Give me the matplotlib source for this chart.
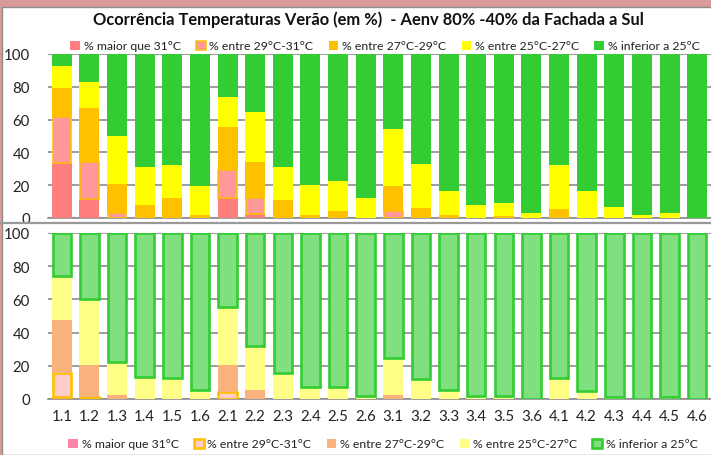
import matplotlib; matplotlib.use('Agg')
import matplotlib.pyplot as plt
from matplotlib.patches import Rectangle
from matplotlib.lines import Line2D

plt.rcParams['font.family'] = ['Lato', 'DejaVu Sans']

cats = ['1.1', '1.2', '1.3', '1.4', '1.5', '1.6',
        '2.1', '2.2', '2.3', '2.4', '2.5', '2.6',
        '3.1', '3.2', '3.3', '3.4', '3.5', '3.6',
        '4.1', '4.2', '4.3', '4.4', '4.5', '4.6']
labels = ['% maior que 31°C', '% entre 29°C-31°C', '% entre 27°C-29°C',
          '% entre 25°C-27°C', '% inferior a 25ºC']

# top panel (Aenv 80%)
top_gt31  = [33.3, 11.6, 0, 0, 0, 0, 12.5, 2.5, 0, 0, 0, 0,
             0, 0, 0, 0, 0, 0, 0, 0, 0, 0, 0, 0]
top_29_31 = [28.5, 22.7, 3.2, 0, 0, 0, 16.5, 9.5, 0, 0, 0, 0,
             4.0, 0, 0, 0, 0, 0, 0, 0, 0, 0, 0, 0]
top_27_29 = [17.2, 32.6, 17.5, 8.0, 12.2, 1.7, 26.3, 21.9, 11.1, 1.7, 4.2, 0,
             15.6, 6.3, 1.7, 0, 1.0, 0, 5.3, 0, 0, 0, 0, 0]
top_25_27 = [13.5, 15.8, 29.5, 22.9, 20.1, 17.6, 18.3, 30.5, 19.8, 18.6, 18.6, 12.0,
             34.7, 26.6, 15.0, 8.1, 8.1, 3.0, 27.0, 16.7, 6.7, 2.1, 3.2, 0]
top_lt25  = [7.5, 17.3, 49.8, 69.1, 67.7, 80.7, 26.4, 35.6, 69.1, 79.7, 77.2, 88.0,
             45.7, 67.1, 83.3, 91.9, 90.9, 97.0, 67.7, 83.3, 93.3, 97.9, 96.8, 100]

# bottom panel (-40%)
bot_gt31  = [1.5, 0, 0, 0, 0, 0, 0, 0, 0, 0, 0, 0,
             0, 0, 0, 0, 0, 0, 0, 0, 0, 0, 0, 0]
bot_29_31 = [14.2, 1.2, 0, 0, 0, 0, 4.0, 0, 0, 0, 0, 0,
             0, 0, 0, 0, 0, 0, 0, 0, 0, 0, 0, 0]
bot_27_29 = [31.9, 19.5, 2.4, 0, 0, 0, 16.5, 5.6, 0, 0, 0, 0,
             2.6, 0, 0, 0, 0, 0, 0, 0, 0, 0, 0, 0]
bot_25_27 = [26.3, 39.5, 20.1, 13.0, 12.6, 5.4, 35.1, 26.5, 15.5, 7.0, 7.0, 2.0,
             21.9, 12.0, 5.6, 2.0, 2.0, 0, 12.4, 5.0, 1.5, 0, 1.0, 0]
bot_lt25  = [26.1, 39.8, 77.5, 87.0, 87.4, 94.6, 44.4, 67.9, 84.5, 93.0, 93.0, 98.0,
             75.5, 88.0, 94.4, 98.0, 98.0, 100, 87.6, 95.0, 98.5, 100, 99.0, 100]

top_face = ['#FF7F7F', '#FF9999', '#FFC000', '#FFFF00', '#33CC33']
top_edge = [None, '#FFC000', None, None, None]
bot_face = ['#FF85A8', '#FFCCCC', '#F9B27C', '#FFFF88', '#80E080']
bot_edge = [None, '#FFC000', None, None, '#33CC33']

W, H = 711, 456
fig = plt.figure(figsize=(W / 100, H / 100), dpi=100)
fig.patch.set_facecolor('#D99A9A')
fig.patches.append(Rectangle((2 / W, 0), 1, 1 - 8 / H, transform=fig.transFigure,
                             facecolor='white', edgecolor='#8C8C8C', linewidth=1,
                             zorder=-5))


def panel(ax, series, faces, edges, lw):
    x = list(range(len(cats)))
    bottom = [0.0] * len(cats)
    handles = []
    for vals, fc, ec, lab in zip(series, faces, edges, labels):
        if ec is None:
            b = ax.bar(x, vals, 0.72, bottom=bottom, color=fc, linewidth=0, zorder=3,
                       label=lab)
        else:
            widths = [lw if v > 0 else 0 for v in vals]
            b = ax.bar(x, vals, 0.72 - 0.05, bottom=bottom, color=fc, edgecolor=ec,
                       linewidth=widths, zorder=3, label=lab)
        handles.append(b)
        bottom = [p + v for p, v in zip(bottom, vals)]
    ax.set_xlim(-0.5, len(cats) - 0.5)
    ax.set_ylim(0, 100)
    ax.set_yticks(range(0, 101, 20))
    ax.yaxis.grid(True, color='#8C8C8C', linewidth=1.2, zorder=1)
    ax.set_axisbelow(True)
    ax.spines[['top', 'right', 'left']].set_visible(False)
    ax.spines['bottom'].set_color('#8C8C8C')
    ax.spines['bottom'].set_linewidth(1.2)
    ax.tick_params(axis='y', length=0, pad=13, labelsize=10.8, colors='#222222')
    ax.tick_params(axis='x', length=0, pad=7, labelsize=10.8, colors='#222222')
    ax.set_facecolor('none')
    return handles


ax1 = fig.add_axes([48 / W, 1 - 219 / H, 1 - 48 / W, (219 - 55) / H])
h1 = panel(ax1, [top_gt31, top_29_31, top_27_29, top_25_27, top_lt25],
           top_face, top_edge, 1.1)
ax1.set_xticks(range(len(cats)))
ax1.set_xticklabels([])

ax2 = fig.add_axes([48 / W, 1 - 400 / H, 1 - 48 / W, (400 - 234) / H])
h2 = panel(ax2, [bot_gt31, bot_29_31, bot_27_29, bot_25_27, bot_lt25],
           bot_face, bot_edge, 1.9)
ax2.set_xticks(range(len(cats)))
ax2.set_xticklabels(cats)

# separator between the two charts
fig.add_artist(Line2D([0, 1], [1 - 223.5 / H] * 2, transform=fig.transFigure,
                      color='#999999', linewidth=1.6))

fig.text(368 / W, 1 - 20 / H,
         'Ocorrência Temperaturas Verão (em %)  - Aenv 80% -40% da Fachada a Sul',
         ha='center', va='center', fontsize=11.9, fontweight='bold', color='#111111')

leg_kw = dict(loc='center', ncol=5, frameon=False, fontsize=8.8, handlelength=0.8,
              handleheight=0.8, handletextpad=0.3, columnspacing=1.25,
              borderaxespad=0, labelcolor='#222222')
fig.legend(handles=h1, labels=labels, bbox_to_anchor=(385 / W, 1 - 47 / H), **leg_kw)
fig.legend(handles=h2, labels=labels, bbox_to_anchor=(383 / W, 1 - 445 / H), **leg_kw)

fig.savefig('out.png', dpi=100, facecolor=fig.get_facecolor())
